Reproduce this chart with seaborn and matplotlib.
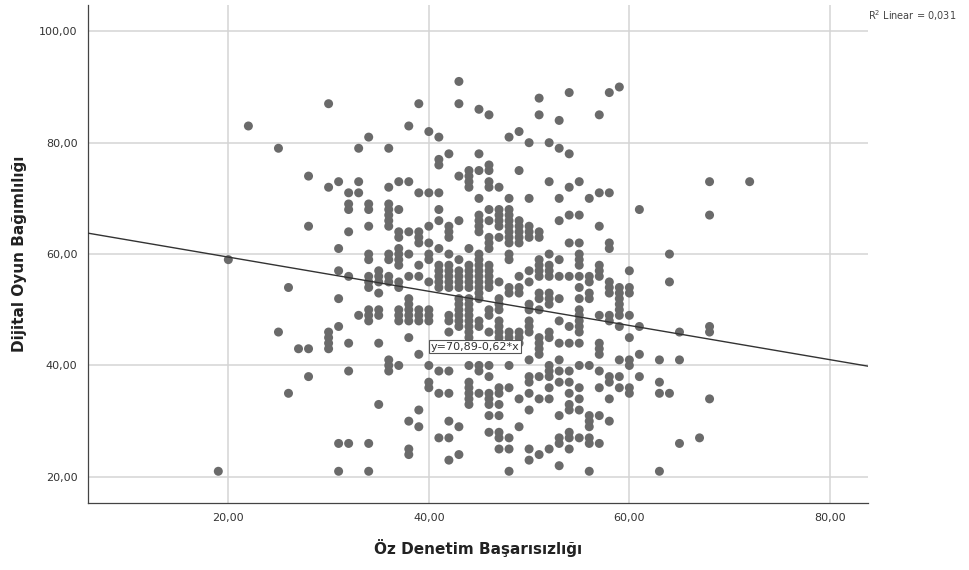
import numpy as np
import pandas as pd
import matplotlib
matplotlib.use("Agg")
import matplotlib.pyplot as plt
import seaborn as sns

# Öz Denetim Başarısızlığı (x) -> Dijital Oyun Bağımlılığı (y)
pts_low = {
    19: [21], 20: [59], 22: [83], 25: [79, 46], 26: [54, 35], 27: [43],
    28: [74, 65, 43, 38], 30: [87, 72, 46, 45, 44, 43],
    31: [73, 61, 57, 52, 47, 26, 21], 32: [71, 69, 68, 64, 56, 44, 39, 26],
    33: [79, 73, 71, 49],
    34: [81, 69, 68, 65, 60, 59, 56, 55, 54, 50, 49, 48, 26, 21],
    35: [57, 56, 55, 53, 50, 49, 44, 33],
    36: [79, 72, 69, 68, 67, 66, 65, 60, 59, 56, 55, 41, 40, 39],
    37: [73, 68, 64, 63, 61, 60, 59, 58, 55, 54, 50, 49, 48, 40],
    38: [83, 73, 64, 60, 56, 52, 51, 50, 49, 48, 45, 30, 25, 24],
    39: [87, 71, 64, 63, 62, 58, 56, 50, 49, 48, 42, 32, 29],
    40: [82, 71, 65, 62, 60, 59, 55, 50, 49, 48, 40, 37, 36],
}
pts_mid = {
    41: [81, 77, 76, 71, 68, 66, 61, 58, 57, 56, 55, 54, 39, 35, 27],
    42: [78, 65, 64, 63, 60, 58, 57, 56, 55, 54, 49, 48, 46, 39, 35, 30, 27, 23],
    43: [91, 87, 74, 66, 59, 57, 56, 55, 54, 52, 51, 50, 49, 48, 47, 29, 24],
    44: [75, 74, 73, 72, 61, 58, 57, 56, 55, 54, 52, 51, 50, 49, 48, 47, 46, 45,
         40, 37, 36, 35, 34, 33],
    45: [86, 78, 75, 70, 67, 66, 65, 64, 60, 59, 58, 57, 56, 55, 54, 53, 52, 48,
         47, 40, 39, 35],
    46: [85, 76, 75, 73, 72, 68, 66, 63, 62, 61, 58, 57, 56, 55, 54, 50, 49, 46,
         40, 38, 35, 34, 33, 31, 28],
    47: [72, 68, 67, 66, 65, 63, 55, 52, 51, 50, 48, 47, 46, 45, 36, 35, 33, 31,
         28, 27, 25],
    48: [81, 70, 68, 67, 66, 65, 64, 63, 62, 60, 59, 54, 53, 46, 45, 40, 36, 27, 25, 21],
    49: [82, 75, 66, 65, 64, 63, 62, 56, 54, 53, 46, 45, 44, 34, 29],
    50: [80, 70, 65, 64, 63, 57, 55, 51, 50, 48, 47, 46, 41, 38, 37, 35, 32, 25, 23],
}
pts_high = {
    51: [88, 85, 64, 63, 59, 58, 57, 56, 53, 52, 50, 45, 44, 43, 42, 38, 34, 24],
    52: [80, 73, 60, 58, 57, 56, 53, 52, 51, 46, 45, 40, 39, 38, 36, 34, 25],
    53: [84, 79, 70, 66, 59, 56, 52, 48, 44, 41, 39, 37, 31, 27, 26, 22],
    54: [89, 78, 72, 67, 62, 56, 47, 44, 39, 37, 35, 33, 32, 28, 27, 25],
    55: [73, 67, 62, 60, 59, 58, 56, 54, 52, 50, 49, 48, 47, 46, 44, 40, 36, 34, 32, 27],
    56: [70, 56, 55, 53, 52, 40, 31, 30, 29, 27, 26, 21],
    57: [85, 71, 65, 58, 57, 56, 49, 44, 43, 42, 39, 36, 31, 26],
    58: [89, 71, 62, 61, 55, 54, 53, 49, 48, 38, 37, 34, 30],
    59: [90, 54, 53, 52, 51, 50, 49, 47, 41, 38, 36],
    60: [57, 54, 53, 49, 45, 41, 40, 36, 35],
    61: [68, 47, 42, 38], 63: [41, 37, 35, 21], 64: [60, 55, 35],
    65: [46, 41, 26], 67: [27], 68: [73, 67, 47, 46, 34], 72: [73],
}

# fit line as drawn in the reference
fit_intercept = 65.6
fit_slope = -0.307
fit_label = "y=70,89-0,62*x"
r2_label = "R$^2$ Linear = 0,031"

x_ticks = [20, 40, 60, 80]
x_tick_labels = ["20,00", "40,00", "60,00", "80,00"]
y_ticks = [20, 40, 60, 80, 100]
y_tick_labels = ["20,00", "40,00", "60,00", "80,00", "100,00"]

rows = []
for grp in (pts_low, pts_mid, pts_high):
    for xv, ys in grp.items():
        for yv in ys:
            rows.append((xv, yv))
df = pd.DataFrame(rows, columns=["oz", "oyun"])

sns.set_style("white")
plt.rcParams['font.family'] = ['DejaVu Sans']

fig = plt.figure(figsize=(9.7, 5.7), dpi=100)
ax = fig.add_axes([0.0907, 0.1175, 0.8041, 0.8735])

ax.set_xlim(6.0, 83.8)
ax.set_ylim(15.3, 104.7)
ax.set_xticks(x_ticks)
ax.set_xticklabels(x_tick_labels, fontsize=8, color="#333333")
ax.set_yticks(y_ticks)
ax.set_yticklabels(y_tick_labels, fontsize=8, color="#333333")
ax.grid(True, color="#d4d4d4", linewidth=1.1)
ax.set_axisbelow(True)
ax.tick_params(axis="both", length=4, width=0.8, color="#555555", direction="out")

sns.scatterplot(data=df, x="oz", y="oyun", ax=ax, color="#6a6a6a",
                s=42, edgecolor="none", linewidth=0, zorder=3)

ax.axline((0, fit_intercept), slope=fit_slope, color="#333333", linewidth=1.0, zorder=4)

ax.text(40.2, 43.4, fit_label, fontsize=8, color="#333333", va="center", ha="left",
        zorder=5, bbox=dict(boxstyle="square,pad=0.15", facecolor="white",
                            edgecolor="#555555", linewidth=0.8))

for side in ["top", "right"]:
    ax.spines[side].set_visible(False)
for side in ["left", "bottom"]:
    ax.spines[side].set_color("#444444")
    ax.spines[side].set_linewidth(0.9)

ax.set_xlabel("Öz Denetim Başarısızlığı", fontsize=11, fontweight="bold",
              color="#222222", labelpad=11)
ax.set_ylabel("Dijital Oyun Bağımlılığı", fontsize=11, fontweight="bold",
              color="#222222", labelpad=9)

fig.text(0.895, 0.972, r2_label, fontsize=7, color="#444444", ha="left", va="center")

plt.savefig("out.png", dpi=100)
